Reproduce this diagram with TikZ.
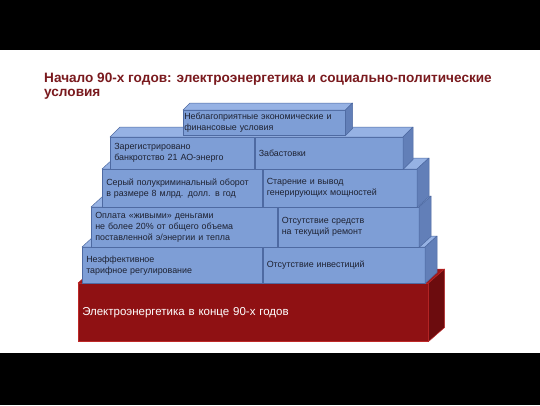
\documentclass[tikz,border=0pt]{standalone}
\usepackage{fontspec}
\setmainfont{Liberation Sans}
\usetikzlibrary{positioning}

\definecolor{frontblue}{RGB}{126,158,214}
\definecolor{topblue}{RGB}{150,178,228}
\definecolor{sideblue}{RGB}{98,127,184}
\definecolor{edgeblue}{RGB}{78,106,162}
\definecolor{frontred}{RGB}{143,17,19}
\definecolor{topred}{RGB}{160,24,26}
\definecolor{sidered}{RGB}{108,12,14}
\definecolor{edgered}{RGB}{190,40,40}
\definecolor{titlered}{RGB}{122,26,30}
\definecolor{textgray}{RGB}{30,34,50}

% top and side of a row: left node, right node, depth x, depth y, colour set
\newcommand{\rowfaces}[5]{%
  \draw[#5top] (#1.north west) -- ++(#3,-#4) -- ([shift={(#3,-#4)}]#2.north east) -- (#2.north east) -- cycle;
  \draw[#5side] (#2.north east) -- ++(#3,-#4) -- ([shift={(#3,-#4)}]#2.south east) -- (#2.south east) -- cycle;
}

\begin{document}
\begin{tikzpicture}[
      x=1pt, y=-1pt,
      face/.style={
          rectangle,
          draw=edgeblue,
          fill=frontblue,
          line width=0.5pt,
          anchor=north west,
          inner xsep=4pt,
          inner ysep=0pt,
          align=left,
          text=textgray,
          font=\fontsize{8.9}{11}\selectfont
        },
      basebox/.style={
          rectangle,
          draw=edgered,
          fill=frontred,
          line width=0.5pt,
          anchor=north west,
          inner xsep=4pt,
          inner ysep=0pt,
          align=left,
          text=white,
          font=\fontsize{11.5}{13}\selectfont
        },
      bluetop/.style={draw=edgeblue, fill=topblue, line width=0.5pt, line join=round},
      blueside/.style={draw=edgeblue, fill=sideblue, line width=0.5pt, line join=round},
      redtop/.style={draw=edgered, fill=topred, line width=0.5pt, line join=round},
      redside/.style={draw=edgered, fill=sidered, line width=0.5pt, line join=round},
      heading/.style={
          anchor=north west,
          inner sep=0pt,
          align=left,
          text=titlered,
          font=\fontsize{13.6}{14}\selectfont\bfseries
        }
    ]

    % Frame
    \useasboundingbox (0,0) rectangle (540,405);
    \fill[white] (0,0) rectangle (540,405);
    \fill[black] (0,0) rectangle (540,50);
    \fill[black] (0,353) rectangle (540,405);

    % Title
    \node[heading] (title) at (44,73) {Начало 90-х годов: электроэнергетика и социально-политические\\условия};

    % Base
    \node[basebox, text width=342, minimum height=58] (base) at (78,283) {Электроэнергетика в конце 90-х годов};
    \rowfaces{base}{base}{16}{14}{red}

    % Row 1
    \node[face, text width=172, minimum height=36] (tarif) at (82,247) {Неэффективное\\тарифное регулирование};
    \node[face, right=0pt of tarif, text width=154, minimum height=36] (invest) {Отсутствие инвестиций};
    \rowfaces{tarif}{invest}{12}{11}{blue}

    % Row 2
    \node[face, text width=178, minimum height=40] (oplata) at (91,207) {Оплата «живыми» деньгами\\не более 20\% от общего объема\\поставленной э/энергии и тепла};
    \node[face, right=0pt of oplata, text width=133, minimum height=40] (remont) {Отсутствие средств\\на текущий ремонт};
    \rowfaces{oplata}{remont}{12}{11}{blue}

    % Row 3
    \node[face, text width=152, minimum height=38] (oborot) at (102,169) {Серый полукриминальный оборот\\в размере 8 млрд. долл. в год};
    \node[face, right=0pt of oborot, text width=146, minimum height=38] (starenie) {Старение и вывод\\генерирующих мощностей};
    \rowfaces{oborot}{starenie}{12}{11}{blue}

    % Row 4
    \node[face, text width=136, minimum height=32] (bankrot) at (110,137) {Зарегистрировано\\банкротство 21 АО-энерго};
    \node[face, right=0pt of bankrot, text width=140, minimum height=32] (zabast) {Забастовки};
    \rowfaces{bankrot}{zabast}{10}{10}{blue}

    % Row 5
    \node[face, inner xsep=1pt, text width=160, minimum height=25] (usloviya) at (183,110) {Неблагоприятные экономические и\\финансовые условия};
    \rowfaces{usloviya}{usloviya}{7}{7}{blue}

  \end{tikzpicture}
\end{document}
